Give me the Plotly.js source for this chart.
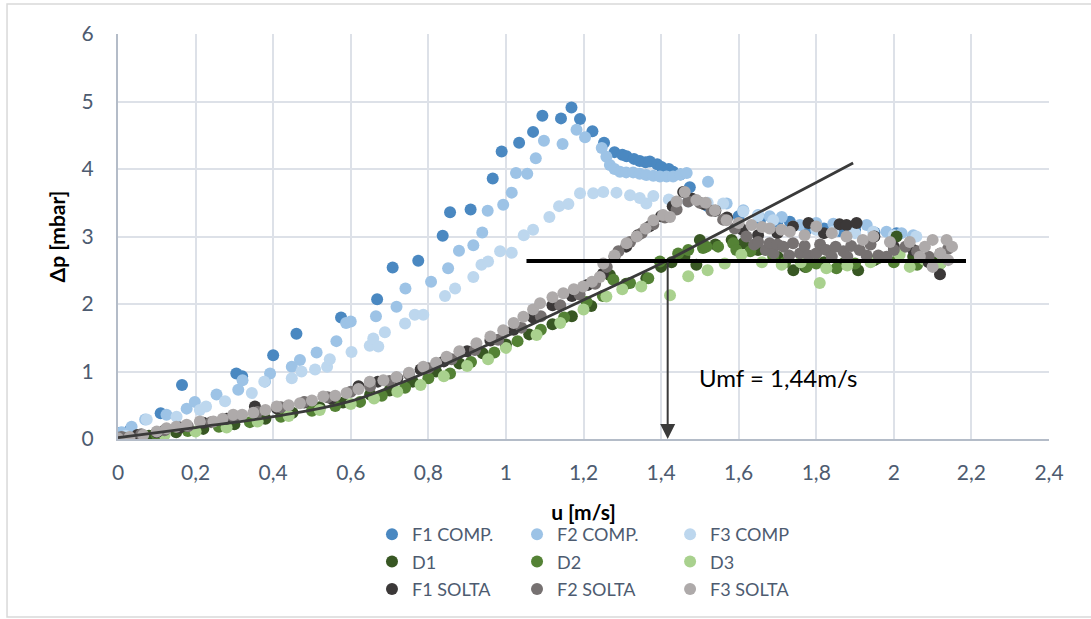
<!DOCTYPE html>
<html>
<head>
<meta charset="utf-8">
<script src="https://cdn.plot.ly/plotly-3.0.1.min.js"></script>
<style>
  html, body { margin: 0; padding: 0; background: #ffffff; }
  #chart { width: 1091px; height: 619px; }
</style>
</head>
<body>
<div id="chart"></div>
<script>
// ---------- data ----------
const f1compU = [0.005, 0.03, 0.11, 0.165, 0.305, 0.32, 0.40, 0.46, 0.575, 0.668, 0.708, 0.774, 0.837, 0.856, 0.909, 0.966, 0.989, 1.034, 1.07, 1.094, 1.142, 1.169, 1.191, 1.223, 1.253, 1.28, 1.30, 1.311, 1.33, 1.345, 1.36, 1.371, 1.39, 1.401, 1.42, 1.431, 1.45, 1.474, 1.52, 1.60, 1.655, 1.70, 1.732, 1.775, 1.82, 1.86, 1.90, 1.95, 2.007, 2.05];
const f1compP = [0.09, 0.13, 0.38, 0.80, 0.97, 0.93, 1.24, 1.56, 1.80, 2.07, 2.54, 2.64, 3.01, 3.36, 3.40, 3.86, 4.26, 4.39, 4.55, 4.79, 4.75, 4.91, 4.74, 4.56, 4.39, 4.25, 4.21, 4.19, 4.15, 4.12, 4.10, 4.11, 4.07, 4.03, 4.00, 3.96, 3.92, 3.73, 3.45, 3.30, 3.24, 3.22, 3.22, 3.10, 3.12, 3.08, 3.10, 3.06, 3.05, 3.00];

const f2compU = [0.01, 0.035, 0.07, 0.125, 0.177, 0.198, 0.254, 0.31, 0.321, 0.379, 0.392, 0.448, 0.469, 0.512, 0.563, 0.588, 0.60, 0.665, 0.718, 0.741, 0.807, 0.851, 0.879, 0.916, 0.939, 0.953, 0.993, 1.015, 1.026, 1.055, 1.077, 1.098, 1.146, 1.182, 1.204, 1.247, 1.259, 1.268, 1.28, 1.294, 1.31, 1.328, 1.345, 1.362, 1.38, 1.397, 1.414, 1.431, 1.45, 1.466, 1.521, 1.569, 1.612, 1.65, 1.68, 1.711, 1.758, 1.80, 1.844, 1.89, 1.930, 1.981, 2.02, 2.05];
const f2compP = [0.10, 0.18, 0.29, 0.36, 0.45, 0.55, 0.66, 0.73, 0.87, 0.85, 0.97, 1.07, 1.17, 1.28, 1.45, 1.72, 1.74, 1.82, 1.96, 2.23, 2.33, 2.53, 2.79, 2.87, 3.06, 3.38, 3.47, 3.65, 3.94, 3.93, 4.16, 4.42, 4.37, 4.58, 4.47, 4.31, 4.18, 4.06, 4.00, 3.96, 3.95, 3.95, 3.93, 3.91, 3.90, 3.89, 3.89, 3.89, 3.92, 3.94, 3.81, 3.49, 3.39, 3.32, 3.30, 3.29, 3.17, 3.20, 3.19, 3.15, 3.17, 3.07, 3.05, 3.02];

const f3compU = [0.02, 0.074, 0.151, 0.211, 0.227, 0.276, 0.345, 0.377, 0.448, 0.473, 0.508, 0.539, 0.546, 0.602, 0.649, 0.658, 0.671, 0.688, 0.740, 0.765, 0.787, 0.843, 0.869, 0.916, 0.937, 0.954, 0.985, 1.015, 1.046, 1.070, 1.112, 1.137, 1.161, 1.191, 1.225, 1.251, 1.285, 1.320, 1.345, 1.362, 1.380, 1.42, 1.47, 1.52, 1.56, 1.612, 1.65, 1.689, 1.74, 1.80, 1.844, 1.90, 1.947, 2.00, 2.058];
const f3compP = [0.05, 0.29, 0.33, 0.43, 0.48, 0.56, 0.68, 0.85, 0.90, 1.00, 1.03, 1.07, 1.18, 1.29, 1.38, 1.49, 1.37, 1.58, 1.71, 1.84, 1.84, 2.12, 2.23, 2.40, 2.58, 2.63, 2.78, 2.76, 3.02, 3.10, 3.29, 3.45, 3.48, 3.64, 3.64, 3.66, 3.65, 3.61, 3.57, 3.49, 3.60, 3.55, 3.52, 3.50, 3.49, 3.37, 3.30, 3.24, 3.15, 3.10, 3.07, 3.05, 3.07, 3.02, 3.00];

const d1U = [0.02, 0.08, 0.15, 0.22, 0.30, 0.38, 0.45, 0.52, 0.58, 0.65, 0.70, 0.76, 0.82, 0.88, 0.94, 1.00, 1.06, 1.12, 1.17, 1.22, 1.268, 1.31, 1.362, 1.40, 1.427, 1.46, 1.491, 1.50, 1.54, 1.582, 1.612, 1.65, 1.70, 1.741, 1.771, 1.82, 1.87, 1.908, 1.95, 2.007, 2.05, 2.10];
const d1P = [0.01, 0.05, 0.10, 0.15, 0.22, 0.30, 0.39, 0.47, 0.54, 0.66, 0.72, 0.85, 1.00, 1.12, 1.27, 1.40, 1.55, 1.70, 1.82, 1.97, 2.43, 2.30, 2.38, 2.55, 2.62, 2.70, 2.58, 2.95, 2.88, 2.95, 2.90, 2.80, 2.70, 2.50, 2.55, 2.62, 2.60, 2.50, 2.65, 3.00, 2.70, 2.62];

const d2U = [0.03, 0.10, 0.18, 0.26, 0.34, 0.42, 0.50, 0.56, 0.624, 0.68, 0.74, 0.80, 0.856, 0.91, 0.97, 1.03, 1.09, 1.15, 1.208, 1.25, 1.277, 1.32, 1.367, 1.397, 1.444, 1.47, 1.508, 1.517, 1.547, 1.586, 1.594, 1.63, 1.689, 1.72, 1.775, 1.80, 1.852, 1.90, 1.96, 2.00, 2.06, 2.12];
const d2P = [0.02, 0.06, 0.12, 0.18, 0.25, 0.33, 0.42, 0.49, 0.55, 0.64, 0.76, 0.90, 0.97, 1.14, 1.28, 1.45, 1.62, 1.80, 2.03, 2.12, 2.36, 2.31, 2.38, 2.63, 2.75, 2.80, 2.83, 2.85, 2.85, 2.90, 2.80, 2.78, 2.70, 2.62, 2.55, 2.60, 2.53, 2.60, 2.68, 2.62, 2.58, 2.60];

const d3U = [0.02, 0.12, 0.20, 0.28, 0.36, 0.44, 0.52, 0.60, 0.66, 0.72, 0.78, 0.84, 0.90, 0.954, 1.00, 1.079, 1.14, 1.20, 1.259, 1.30, 1.349, 1.423, 1.47, 1.52, 1.564, 1.607, 1.66, 1.711, 1.76, 1.809, 1.826, 1.88, 1.94, 2.015, 2.041, 2.08, 2.12];
const d3P = [0.00, 0.06, 0.11, 0.17, 0.26, 0.34, 0.43, 0.52, 0.60, 0.70, 0.80, 0.93, 1.08, 1.18, 1.35, 1.54, 1.72, 1.92, 2.11, 2.22, 2.26, 2.13, 2.41, 2.50, 2.60, 2.73, 2.62, 2.58, 2.62, 2.31, 2.53, 2.57, 2.62, 2.73, 2.55, 2.65, 2.60];

const f1soltaU = [0.00, 0.05, 0.10, 0.16, 0.22, 0.28, 0.353, 0.41, 0.48, 0.55, 0.62, 0.67, 0.72, 0.78, 0.84, 0.90, 0.96, 1.02, 1.07, 1.12, 1.17, 1.21, 1.25, 1.28, 1.31, 1.34, 1.37, 1.40, 1.43, 1.457, 1.48, 1.51, 1.54, 1.57, 1.61, 1.65, 1.70, 1.74, 1.78, 1.82, 1.86, 1.878, 1.904, 1.95, 2.00, 2.05, 2.09, 2.119];
const f1soltaP = [0.02, 0.06, 0.10, 0.17, 0.24, 0.30, 0.48, 0.45, 0.54, 0.60, 0.78, 0.85, 0.90, 1.03, 1.15, 1.30, 1.46, 1.62, 1.80, 1.98, 2.12, 2.28, 2.45, 2.70, 2.85, 3.02, 3.15, 3.30, 3.45, 3.66, 3.56, 3.48, 3.38, 3.28, 3.10, 3.02, 3.05, 3.15, 3.20, 3.05, 3.18, 3.17, 3.20, 3.00, 2.85, 2.80, 2.62, 2.44];

const f2soltaU = [0.01, 0.06, 0.12, 0.18, 0.24, 0.30, 0.36, 0.42, 0.48, 0.54, 0.60, 0.65, 0.70, 0.75, 0.80, 0.86, 0.92, 0.98, 1.04, 1.09, 1.14, 1.19, 1.23, 1.26, 1.29, 1.32, 1.35, 1.38, 1.41, 1.44, 1.47, 1.50, 1.53, 1.56, 1.59, 1.62, 1.64, 1.65, 1.67, 1.68, 1.69, 1.70, 1.715, 1.73, 1.74, 1.758, 1.77, 1.78, 1.80, 1.81, 1.826, 1.84, 1.85, 1.87, 1.88, 1.89, 1.912, 1.93, 1.94, 1.96, 1.981, 2.00, 2.03, 2.06, 2.09, 2.12, 2.14];
const f2soltaP = [0.03, 0.07, 0.13, 0.19, 0.25, 0.32, 0.40, 0.47, 0.55, 0.62, 0.70, 0.78, 0.86, 0.96, 1.05, 1.18, 1.32, 1.47, 1.65, 1.82, 1.98, 2.14, 2.30, 2.55, 2.78, 2.92, 3.05, 3.18, 3.28, 3.40, 3.52, 3.50, 3.38, 3.25, 3.12, 3.00, 2.88, 2.92, 2.80, 2.90, 2.75, 2.88, 2.85, 2.72, 2.90, 2.75, 2.86, 2.72, 2.75, 2.88, 2.80, 2.70, 2.85, 2.78, 2.70, 2.86, 2.80, 2.72, 2.88, 2.72, 2.70, 2.80, 2.85, 2.78, 2.70, 2.75, 2.82];

const f3soltaU = [0.00, 0.03, 0.065, 0.10, 0.125, 0.15, 0.177, 0.211, 0.246, 0.27, 0.297, 0.32, 0.349, 0.38, 0.409, 0.44, 0.469, 0.50, 0.529, 0.56, 0.589, 0.62, 0.649, 0.684, 0.718, 0.75, 0.787, 0.82, 0.847, 0.88, 0.924, 0.96, 0.993, 1.02, 1.045, 1.07, 1.088, 1.12, 1.148, 1.175, 1.199, 1.222, 1.242, 1.251, 1.28, 1.311, 1.337, 1.36, 1.38, 1.405, 1.423, 1.44, 1.461, 1.491, 1.515, 1.539, 1.569, 1.60, 1.633, 1.66, 1.68, 1.71, 1.732, 1.77, 1.80, 1.84, 1.878, 1.92, 1.947, 1.99, 2.041, 2.067, 2.08, 2.10, 2.10, 2.12, 2.136, 2.14, 2.15];
const f3soltaP = [0.01, 0.03, 0.06, 0.11, 0.16, 0.18, 0.21, 0.26, 0.26, 0.30, 0.36, 0.36, 0.39, 0.43, 0.48, 0.50, 0.53, 0.57, 0.63, 0.64, 0.68, 0.74, 0.85, 0.87, 0.92, 0.98, 1.07, 1.13, 1.22, 1.30, 1.42, 1.52, 1.61, 1.72, 1.81, 1.92, 2.01, 2.10, 2.16, 2.22, 2.26, 2.33, 2.40, 2.60, 2.72, 2.90, 3.00, 3.12, 3.24, 3.32, 3.29, 3.52, 3.66, 3.54, 3.50, 3.39, 3.24, 3.20, 3.17, 3.14, 3.12, 3.10, 3.07, 3.02, 3.15, 3.05, 3.00, 2.95, 3.00, 2.92, 2.92, 2.70, 2.85, 2.95, 2.55, 2.75, 2.95, 2.65, 2.85];

// trend curve (loose bed fit) and horizontal plateau line
const trendU = [0.00, 0.20, 0.40, 0.60, 0.80, 1.00, 1.20, 1.40, 1.60, 1.80, 1.895];
const trendP = [0.02, 0.17, 0.33, 0.56, 1.00, 1.52, 2.06, 2.60, 3.20, 3.80, 4.09];
const plateauU = [1.053, 2.186];
const plateauP = [2.637, 2.637];
const umfU = 1.417;
const umfLabel = 'Umf = 1,44m/s';

const seriesNames = ['F1 COMP.', 'F2 COMP.', 'F3 COMP', 'D1', 'D2', 'D3', 'F1 SOLTA', 'F2 SOLTA', 'F3 SOLTA'];
const seriesColors = ['#4a88c1', '#9dc3e6', '#bdd7ee', '#385723', '#548235', '#a9d18e', '#3b3838', '#767171', '#aeaaaa'];
const seriesU = [f1compU, f2compU, f3compU, d1U, d2U, d3U, f1soltaU, f2soltaU, f3soltaU];
const seriesP = [f1compP, f2compP, f3compP, d1P, d2P, d3P, f1soltaP, f2soltaP, f3soltaP];
// legend column of each series (columns: F1/D1/F1 SOLTA, F2/D2/F2 SOLTA, F3/D3/F3 SOLTA)
const legendCols = ['legend', 'legend2', 'legend3', 'legend', 'legend2', 'legend3', 'legend', 'legend2', 'legend3'];

const FONT = 'Lato, "Open Sans", "Liberation Sans", sans-serif';
const TXT = '#4d5b70';

const traces = seriesNames.map((name, i) => ({
  type: 'scatter',
  mode: 'markers',
  name: name,
  x: seriesU[i],
  y: seriesP[i],
  legend: legendCols[i],
  legendgroup: 'g' + i,
  marker: { color: seriesColors[i], size: 12, line: { width: 0 } },
  hoverinfo: 'x+y+name'
}));

traces.push({
  type: 'scatter', mode: 'lines', x: trendU, y: trendP, showlegend: false,
  line: { color: '#3a3a3a', width: 2.8, shape: 'spline', smoothing: 1 }, hoverinfo: 'skip'
});
traces.push({
  type: 'scatter', mode: 'lines', x: plateauU, y: plateauP, showlegend: false,
  line: { color: '#000000', width: 4 }, hoverinfo: 'skip'
});

const legendBase = {
  orientation: 'v', xanchor: 'left', yanchor: 'top', y: -0.19,
  bgcolor: 'rgba(0,0,0,0)', borderwidth: 0, tracegroupgap: 1,
  traceorder: 'grouped',
  font: { family: FONT, size: 18, color: TXT }
};

const layout = {
  width: 1091, height: 619,
  margin: { l: 118, r: 42, t: 34, b: 180, autoexpand: false },
  paper_bgcolor: '#ffffff', plot_bgcolor: '#ffffff',
  separators: ',.',
  font: { family: FONT, color: TXT },
  showlegend: true,
  xaxis: {
    range: [0, 2.4], tick0: 0, dtick: 0.2,
    showgrid: true, gridcolor: '#dde1e8', gridwidth: 2,
    zeroline: false, showline: true, linecolor: '#b4bcc8', linewidth: 2,
    ticks: 'outside', ticklen: 14, tickcolor: 'rgba(0,0,0,0)',
    tickfont: { family: FONT, size: 21, color: TXT },
    title: { text: 'u [m/s]', standoff: 22, font: { family: FONT, size: 21, color: '#000000', weight: 'bold' } }
  },
  yaxis: {
    range: [0, 6], tick0: 0, dtick: 1,
    showgrid: true, gridcolor: '#dde1e8', gridwidth: 2,
    zeroline: false, showline: true, linecolor: '#b4bcc8', linewidth: 2,
    ticks: 'outside', ticklen: 18, tickcolor: 'rgba(0,0,0,0)',
    tickfont: { family: FONT, size: 21, color: TXT },
    title: { text: 'Δp [mbar]', standoff: 10, font: { family: FONT, size: 21, color: '#000000', weight: 'bold' } }
  },
  legend: Object.assign({}, legendBase, { x: 0.2728 }),
  legend2: Object.assign({}, legendBase, { x: 0.4286 }),
  legend3: Object.assign({}, legendBase, { x: 0.593 }),
  shapes: [{
    type: 'rect', xref: 'paper', yref: 'paper',
    x0: -0.1192, x1: 1.0462, y0: -0.4395, y1: 1.074,
    line: { color: '#d9d9d9', width: 1.5 }, fillcolor: 'rgba(0,0,0,0)', layer: 'below'
  }],
  annotations: [
    {
      x: umfU, y: 0, xref: 'x', yref: 'y',
      ax: umfU, ay: plateauP[0], axref: 'x', ayref: 'y',
      text: '', showarrow: true, arrowhead: 2, arrowsize: 1.5, arrowwidth: 2,
      arrowcolor: '#3a3a3a', standoff: 0, startstandoff: 0
    },
    {
      x: 1.492, y: 0.918, xref: 'x', yref: 'y', xanchor: 'left', yanchor: 'middle',
      text: umfLabel, showarrow: false,
      font: { family: FONT, size: 24, color: '#000000' }
    }
  ]
};

Plotly.newPlot('chart', traces, layout, { displayModeBar: false, staticPlot: true });
</script>
</body>
</html>
